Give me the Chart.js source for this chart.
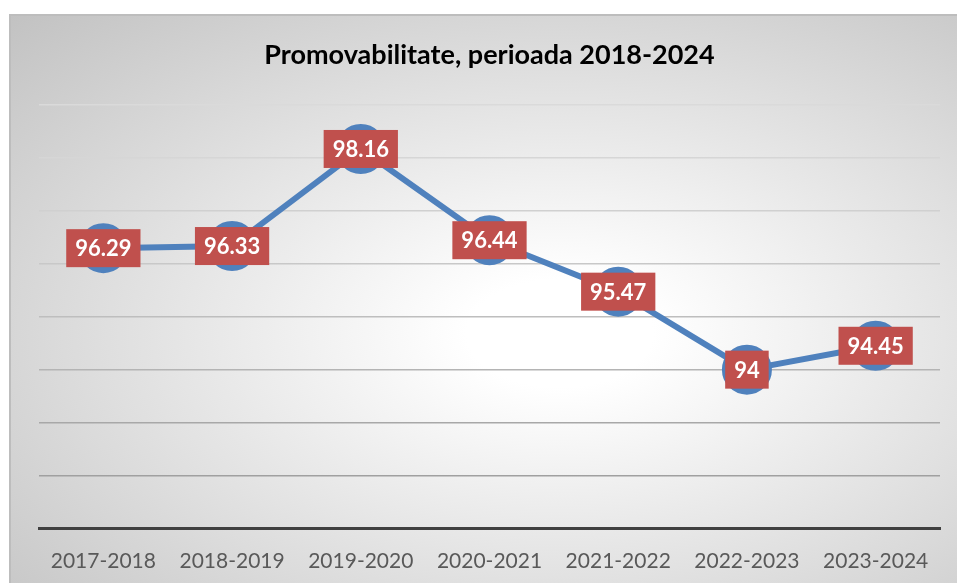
<!DOCTYPE html>
<html>
<head>
<meta charset="utf-8">
<title>Promovabilitate</title>
<script src="https://cdn.jsdelivr.net/npm/chart.js@4.4.1/dist/chart.umd.min.js"></script>
<style>
    html, body { margin: 0; padding: 0; background: #fff; overflow: hidden; }
    #frame {
        position: absolute; left: 9px; top: 14px; width: 948px; height: 569px;
        box-sizing: border-box; border: 2px solid #bdbdbd; border-right: none; border-bottom: none;
        background: radial-gradient(ellipse farthest-corner at 58% 56%, #ffffff 0%, #ffffff 12%, #c2c2c2 100%);
    }
    #chart { position: absolute; left: 0; top: 0; }
</style>
</head>
<body>
<div id="frame"></div>
<canvas id="chart" width="957" height="583"></canvas>
<script>
    const years = ['2017-2018', '2018-2019', '2019-2020', '2020-2021', '2021-2022', '2022-2023', '2023-2024']
    const rates = [96.29, 96.33, 98.16, 96.44, 95.47, 94, 94.45]
    const titleText = 'Promovabilitate, perioada 2018-2024'

    const blue = '#4F81BD'
    const red = '#C0504D'

    // red value boxes drawn on top of each point
    const valueBoxes = {
        id: 'valueBoxes',
        afterDatasetsDraw(chart) {
            const ctx = chart.ctx
            const meta = chart.getDatasetMeta(0)
            ctx.save()
            ctx.font = 'bold 22px Lato'
            ctx.textAlign = 'center'
            ctx.textBaseline = 'middle'
            meta.data.forEach((pt, i) => {
                const txt = String(rates[i])
                const w = ctx.measureText(txt).width + 18
                const h = 38
                ctx.fillStyle = red
                ctx.fillRect(pt.x - w / 2, pt.y - h / 2, w, h)
                ctx.fillStyle = '#fff'
                ctx.fillText(txt, pt.x, pt.y + 1)
            })
            ctx.restore()
        },
    }

    const gridColors = ['#999999', '#a0a0a0', '#a8a8a8', '#b4b4b4', '#bebebe', '#c8c8c8', '#d0d0d0', '#d6d6d6', '#dadada']

    new Chart('chart', {
        type: 'line',
        data: {
            labels: years,
            datasets: [{
                data: rates,
                borderColor: blue,
                backgroundColor: blue,
                borderWidth: 6,
                tension: 0,
                pointRadius: 22,
                pointHoverRadius: 22,
                pointBackgroundColor: blue,
                pointBorderColor: blue,
                clip: false,
            }],
        },
        options: {
            responsive: false,
            animation: false,
            events: [],
            layout: { autoPadding: false, padding: { left: 39, right: 17, top: 39, bottom: -3 } },
            plugins: {
                legend: { display: false },
                tooltip: { enabled: false },
                title: {
                    display: true,
                    text: titleText,
                    color: '#000',
                    font: { family: 'Lato', size: 27, weight: 'bold' },
                    padding: { top: 0, bottom: 33 },
                },
            },
            scales: {
                x: {
                    offset: true,
                    grid: { display: false },
                    border: { display: true, color: '#404040', width: 3 },
                    ticks: { color: '#595959', font: { family: 'Lato', size: 21 }, padding: 12 },
                },
                y: {
                    display: true,
                    min: 91,
                    max: 99,
                    ticks: { display: false, stepSize: 1 },
                    border: { display: false },
                    grid: {
                        drawTicks: false,
                        lineWidth: 1.5,
                        color: ctx => ctx.index === 0 ? 'rgba(0,0,0,0)' : gridColors[ctx.index],
                    },
                },
            },
        },
        plugins: [valueBoxes],
    })
</script>
</body>
</html>
